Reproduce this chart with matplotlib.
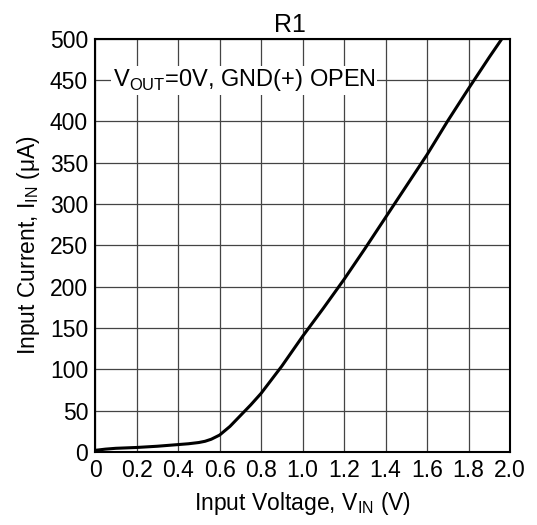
import matplotlib
matplotlib.use("Agg")
import matplotlib.pyplot as plt

plt.rcParams['font.family'] = ['Liberation Sans', 'DejaVu Sans']
plt.rcParams['mathtext.fontset'] = 'custom'
plt.rcParams['mathtext.rm'] = 'Liberation Sans'

# Curve
v_in = [0.0, 0.05, 0.1, 0.2, 0.3, 0.4, 0.45, 0.5, 0.53, 0.56, 0.6, 0.65, 0.7,
        0.75, 0.8, 0.9, 1.0, 1.1, 1.2, 1.3, 1.4, 1.5, 1.6, 1.7, 1.8, 1.9, 1.96]
i_in = [2, 3.5, 4.5, 5.5, 7, 9, 10, 11.5, 13, 15.5, 20.5, 31, 44,
        57, 71, 104, 140, 174, 209, 246, 284, 322, 360, 401, 440, 478, 500]

x_ticks = [0, 0.2, 0.4, 0.6, 0.8, 1.0, 1.2, 1.4, 1.6, 1.8, 2.0]
x_labels = ["0", "0.2", "0.4", "0.6", "0.8", "1.0", "1.2", "1.4", "1.6", "1.8", "2.0"]
y_ticks = list(range(0, 501, 50))

fig = plt.figure(figsize=(5.37, 5.25), dpi=100)
ax = fig.add_axes([0.177, 0.139, 0.773, 0.787])

ax.plot(v_in, i_in, color='black', lw=2.2, zorder=3,
        solid_joinstyle='round')

ax.set_xlim(0, 2.0)
ax.set_ylim(0, 500)
ax.set_xticks(x_ticks)
ax.set_xticklabels(x_labels)
ax.set_yticks(y_ticks)
ax.tick_params(length=0, labelsize=16.5, pad=5)
ax.grid(True, color='#444444', lw=0.9)
for s in ax.spines.values():
    s.set_linewidth(1.5)

ax.set_title("R1", fontsize=18, pad=5, x=0.47)
ax.set_xlabel(r"Input Voltage, V$_{\mathregular{IN}}$ (V)", fontsize=16.5,
              labelpad=6)
ax.set_ylabel(r"Input Current, I$_{\mathregular{IN}}$ ($\mathregular{\mu}$A)",
              fontsize=16.5, labelpad=6)

ax.text(0.085, 450, r"V$_{\mathregular{OUT}}$=0V, GND(+) OPEN", fontsize=17,
        va='center', ha='left', zorder=4,
        bbox=dict(facecolor='white', edgecolor='none', pad=1))

fig.savefig("out.png", dpi=100)
